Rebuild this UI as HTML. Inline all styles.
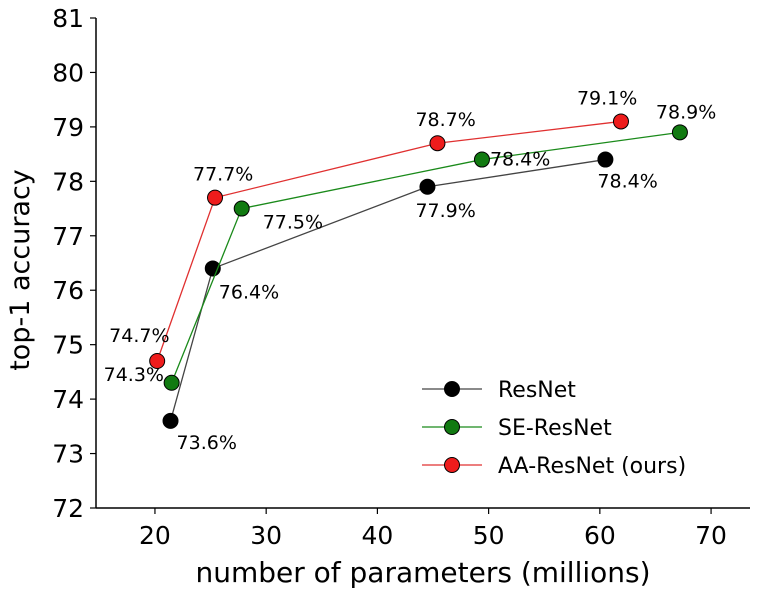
<!DOCTYPE html>
<html><head><meta charset="utf-8"><style>
html,body{margin:0;padding:0;background:#fff;}
svg text{font-family:"DejaVu Sans","Liberation Sans",sans-serif;}
</style></head><body>
<svg id="chart" width="760" height="590" xmlns="http://www.w3.org/2000/svg"></svg>
<script>
const xTicks=[20,30,40,50,60,70];
const yTicks=[72,73,74,75,76,77,78,79,80,81];
const resnetX=[21.4,25.2,44.5,60.5];
const resnetY=[73.6,76.4,77.9,78.4];
const resnetLabels=["73.6%","76.4%","77.9%","78.4%"];
const seX=[21.5,27.8,49.4,67.2];
const seY=[74.3,77.5,78.4,78.9];
const seLabels=["74.3%","77.5%","78.4%","78.9%"];
const aaX=[20.2,25.4,45.4,61.9];
const aaY=[74.7,77.7,78.7,79.1];
const aaLabels=["74.7%","77.7%","78.7%","79.1%"];
const seriesNames=["ResNet","SE-ResNet","AA-ResNet (ours)"];

const svg=document.getElementById('chart');
const NS='http://www.w3.org/2000/svg';
const X0=96,X1=750,Y0=508,Y1=18;
const xMin=14.7,xMax=73.5,yMin=72,yMax=81;
function sx(v){return X0+(v-xMin)/(xMax-xMin)*(X1-X0);}
function sy(v){return Y0-(v-yMin)/(yMax-yMin)*(Y0-Y1);}
function mk(tag,attrs,parent){const e=document.createElementNS(NS,tag);for(const k in attrs)e.setAttribute(k,attrs[k]);(parent||svg).appendChild(e);return e;}

let ax=mk('line',{x1:X0,y1:Y1,x2:X0,y2:Y0,stroke:'#000','stroke-width':1.5});


ax=mk('line',{x1:X0,y1:Y0,x2:X1,y2:Y0,stroke:'#000','stroke-width':1.5});



xTicks.forEach(t=>{
  const x=sx(t);
  const l=mk('line',{x1:x,y1:Y0,x2:x,y2:Y0+6,stroke:'#000','stroke-width':1.2});
  
  
  const tx=mk('text',{x:x,y:Y0+36,'font-size':25,'text-anchor':'middle',fill:'#000'});
  tx.textContent=t;
  
  
});
yTicks.forEach(t=>{
  const y=sy(t);
  const l=mk('line',{x1:X0-6,y1:y,x2:X0,y2:y,stroke:'#000','stroke-width':1.2});
  
  
  const tx=mk('text',{x:X0-12,y:y+9,'font-size':25,'text-anchor':'end',fill:'#000'});
  tx.textContent=t;
  
  
});
let t=mk('text',{x:423,y:582,'font-size':28,'text-anchor':'middle',fill:'#000'});
t.textContent='number of parameters (millions)';


t=mk('text',{x:0,y:0,'font-size':27,'text-anchor':'middle',fill:'#000',transform:'translate(29,270) rotate(-90)'});
t.textContent='top-1 accuracy';



function drawSeries(xs,ys,labels,line,fill,name,offs){
  const g=mk('g',{});
  
  
  const pl=mk('polyline',{points:xs.map((v,i)=>sx(v)+','+sy(ys[i])).join(' '),fill:'none',stroke:line,'stroke-width':1.3},g);
  
  
  xs.forEach((v,i)=>{
    const c=mk('circle',{cx:sx(v),cy:sy(ys[i]),r:7.5,fill:fill,stroke:'#000','stroke-width':1},g);
    
    
    const tx=mk('text',{x:sx(v)+offs[i][0],y:sy(ys[i])+offs[i][1],'font-size':19,fill:'#000'},g);
    tx.textContent=labels[i];
    
    
  });
}
drawSeries(resnetX,resnetY,resnetLabels,'#444','#000','resnet',[[6,28],[6,30],[-12,30],[-8,28]]);
drawSeries(seX,seY,seLabels,'#1a8a1a','#117a11','se-resnet',[[-68,-2],[21,20],[8,6],[-24,-14]]);
drawSeries(aaX,aaY,aaLabels,'#e03030','#ee1c1c','aa-resnet',[[-48,-19],[-22,-17],[-22,-17],[-44,-17]]);

const lg=mk('g',{});


const cols=[['#444','#000'],['#1a8a1a','#117a11'],['#e03030','#ee1c1c']];
seriesNames.forEach((n,i)=>{
  const y=389+i*38;
  const l=mk('line',{x1:422,y1:y,x2:482,y2:y,stroke:cols[i][0],'stroke-width':1.3},lg);
  
  
  const c=mk('circle',{cx:452,cy:y,r:7.5,fill:cols[i][1],stroke:'#000','stroke-width':1},lg);
  
  
  const tx=mk('text',{x:498,y:y+8,'font-size':22,fill:'#000'},lg);
  tx.textContent=n;
  
  
});
</script>
</body></html>
